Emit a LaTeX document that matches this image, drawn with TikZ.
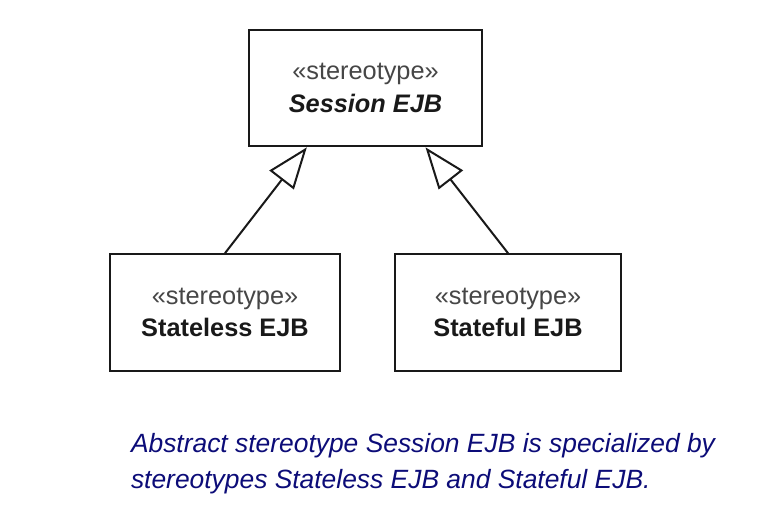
\documentclass[tikz,border=0pt]{standalone}
\usepackage{fontspec}
\setmainfont{Liberation Sans}
\usetikzlibrary{arrows.meta}
\definecolor{capblue}{RGB}{12,12,120}
\definecolor{stgray}{RGB}{70,70,70}
\definecolor{namegray}{RGB}{25,25,25}

\begin{document}
\begin{tikzpicture}[x=0.75pt, y=-0.75pt, line width=1.5pt,
  ejb/.style={rectangle, draw=namegray, inner sep=0pt, minimum height=87.5pt, align=center, font=\fontsize{19}{24.5}\selectfont},
  gen/.style={draw=namegray, -{Triangle[open, length=31pt, width=23pt]}}]
\useasboundingbox (0, 0) rectangle (777, 525);
\path (365.5, 88) node[ejb, minimum width=174.75pt] (session) {\textcolor{stgray}{«stereotype»}\\\textcolor{namegray}{\textbf{\textit{Session EJB}}}}
      (225, 312.5) node[ejb, minimum width=172.5pt] (stateless) {\textcolor{stgray}{«stereotype»}\\\textcolor{namegray}{\textbf{Stateless EJB}}}
      (508, 312.5) node[ejb, minimum width=169.5pt] (stateful) {\textcolor{stgray}{«stereotype»}\\\textcolor{namegray}{\textbf{Stateful EJB}}};

\draw[gen] (stateless.north) -- ([xshift=-44pt]session.south);
\draw[gen] (stateful.north) -- ([xshift=45pt]session.south);

\node[anchor=base west, inner sep=0pt, align=left, text=capblue, font=\fontsize{19.8}{27}\selectfont\itshape] (caption) at (130, 488)
  {Abstract stereotype Session EJB is specialized by\\stereotypes Stateless EJB and Stateful EJB.};
\end{tikzpicture}
\end{document}
